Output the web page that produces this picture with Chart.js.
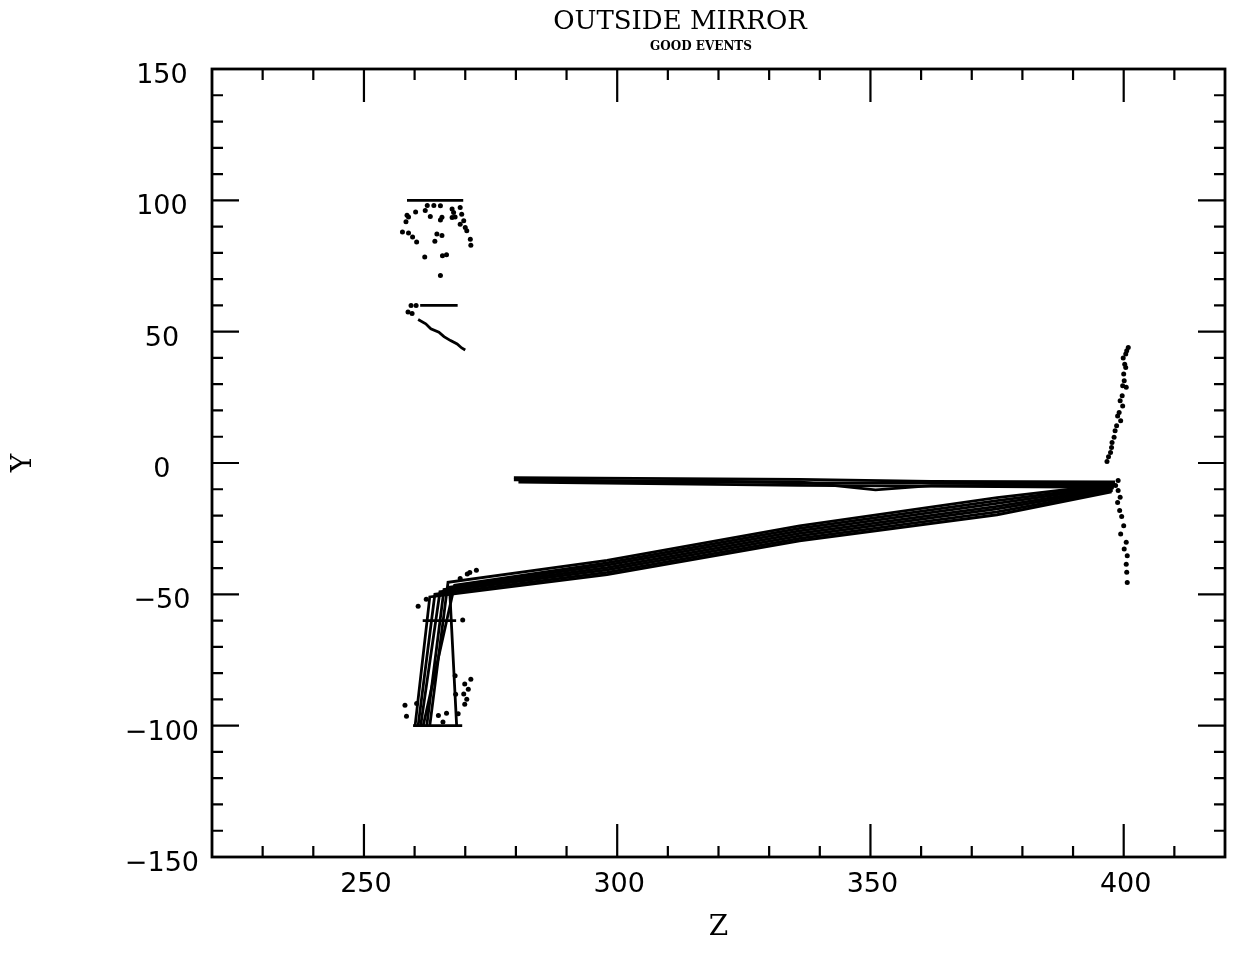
<!DOCTYPE html>
<html>
<head>
<meta charset="utf-8">
<script src="https://cdn.jsdelivr.net/npm/chart.js@4/dist/chart.umd.min.js"></script>
<style>
html,body{margin:0;padding:0;background:#ffffff;}
canvas{display:block;}
</style>
</head>
<body>
<canvas id="c" width="1239" height="955"></canvas>
<script>
// ---- axis definitions ----
const zRange = [220, 420];
const yRange = [-150, 150];
const zLabelValues = [250, 300, 350, 400];
const yLabelValues = [-150, -100, -50, 0, 50, 100, 150];
const titleText = 'OUTSIDE MIRROR';
const subtitleText = 'GOOD EVENTS';

// ---- tracks (z, y) ----
const trackA = [[263.0,-100],[266.6,-45.4],[298,-37.1],[336,-23.9],[375,-13.2],[398.3,-8.0]];
const trackB = [[261.7,-100],[267.9,-46.5],[298,-38.0],[336,-24.9],[375,-14.3],[398.2,-8.5]];
const trackC = [[268.3,-100],[266.9,-47.3],[298,-38.9],[336,-25.8],[375,-15.4],[398.0,-9.0]];
const trackD = [[262.4,-100],[265.8,-48.2],[298,-39.8],[336,-26.8],[375,-16.5],[398.0,-9.5]];
const trackE = [[261.2,-100],[265.0,-49.0],[298,-40.7],[336,-27.7],[375,-17.5],[397.8,-10.0]];
const trackF = [[260.7,-100],[264.0,-50.0],[298,-41.6],[336,-28.7],[375,-18.6],[397.8,-10.5]];
const trackG = [[260.1,-100],[263.0,-51.0],[298,-42.5],[336,-29.6],[375,-19.7],[397.6,-11.0]];

const flatA = [[279.6,-5.6],[336,-6.2],[362,-7.0],[398.3,-7.2]];
const flatB = [[279.6,-6.4],[336,-7.2],[351,-10.2],[362,-8.6],[398.3,-8.3]];
const flatC = [[280.5,-7.3],[336,-8.5],[398,-9.3]];
const flatD = [[282,-6.8],[340,-7.6],[398,-7.8]];

const segTop100 = [[258.5,100],[269.6,100]];
const segTop60 = [[261.1,60],[268.5,60]];
const arcTop = [[260.7,54.6],[262.2,53.0],[263.2,51.1],[264.8,49.8],[265.8,48.1],[267.1,46.6],[268.4,45.3],[269.3,43.8],[270.0,43.0]];
const segBot100 = [[259.7,-100],[269.4,-100]];
const segBot60 = [[261.6,-60],[268.2,-60]];

// ---- scattered hits (z, y) ----
const dotsTop = [[262.5,98.0],[263.8,98.0],[265.1,97.9],[260.2,95.6],[258.8,93.7],[258.3,91.8],[258.5,94.3],[262.1,96.1],[263.1,93.8],[265.4,93.6],[265.1,92.5],[267.4,96.7],[267.7,95.4],[267.4,93.5],[268.0,93.7],[269.0,97.3],[269.3,94.7],[269.7,92.2],[270.0,89.7],[270.3,88.4],[269.0,90.9],[257.6,87.9],[258.8,87.6],[259.6,86.0],[260.4,84.1],[264.4,87.2],[265.4,86.6],[264.0,84.4],[271.0,85.2],[271.1,82.9],[262.0,78.4],[265.5,78.9],[266.3,79.3],[265.1,71.4],[259.3,60.0],[260.3,60.0],[258.7,57.5],[259.5,56.9]];
const dotsBottom = [[272.2,-40.8],[270.4,-42.3],[260.7,-54.5],[262.3,-51.9],[269.5,-59.8],[271.1,-82.3],[269.9,-84.1],[270.6,-86.1],[269.7,-87.9],[270.3,-89.9],[269.9,-91.8],[258.1,-92.2],[258.4,-96.4],[264.7,-96.1],[266.3,-95.3],[268.6,-95.5],[265.6,-98.6],[260.4,-91.6],[268.0,-81.0],[268.1,-88.0],[269.0,-44.0],[270.9,-41.7]];
const dotsRight = [[400.9,44.0],[400.6,42.7],[400.4,41.5],[399.9,40.0],[400.2,37.6],[400.4,36.4],[400.0,33.9],[400.1,31.3],[399.8,29.4],[400.5,28.8],[399.7,25.6],[399.3,23.7],[399.8,21.7],[399.1,19.2],[398.8,17.9],[399.4,16.1],[398.6,14.2],[398.3,12.3],[398.1,9.8],[397.7,7.8],[397.6,5.9],[397.4,4.0],[397.0,2.4],[396.7,0.6],[398.9,-6.7],[398.4,-8.6],[398.9,-10.5],[399.3,-13.0],[398.8,-15.0],[399.2,-18.1],[399.6,-20.4],[400.0,-23.9],[399.4,-27.0],[400.5,-30.2],[400.1,-32.7],[400.7,-35.3],[400.5,-38.5],[400.6,-41.6],[400.7,-45.5]];

const lineSets = [trackA, trackB, trackC, trackD, trackE, trackF, trackG, flatA, flatB, flatC, flatD, segTop100, segTop60, arcTop, segBot100, segBot60];
const dotSets = [dotsTop, dotsBottom, dotsRight];

const toXY = arr => arr.map(p => ({x: p[0], y: p[1]}));
const fmt = v => (v < 0 ? '\u2212' + Math.abs(v) : String(v));

const datasets = [];
lineSets.forEach((s, i) => datasets.push({
  label: 'track ' + (i + 1), data: toXY(s), showLine: true, borderColor: '#000',
  borderWidth: 2.8, pointRadius: 0, fill: false, tension: 0
}));
dotSets.forEach((s, i) => datasets.push({
  label: 'hits ' + (i + 1), data: toXY(s), showLine: false, pointRadius: 2.5,
  pointBackgroundColor: '#000', pointBorderWidth: 0, borderColor: '#000'
}));

const frameTicks = {
  id: 'frameTicks',
  afterDatasetsDraw(chart) {
    const {ctx, chartArea: a, scales: {x, y}} = chart;
    ctx.save();
    ctx.strokeStyle = '#000';
    ctx.lineWidth = 2.8;
    ctx.strokeRect(a.left, a.top, a.right - a.left, a.bottom - a.top);
    ctx.lineWidth = 2.2;
    ctx.beginPath();
    x.ticks.forEach(t => {
      const p = x.getPixelForValue(t.value);
      if (p <= a.left + 1 || p >= a.right - 1) return;
      const len = (t.value % 50 === 0) ? 33 : 11;
      ctx.moveTo(p, a.bottom); ctx.lineTo(p, a.bottom - len);
      ctx.moveTo(p, a.top); ctx.lineTo(p, a.top + len);
    });
    y.ticks.forEach(t => {
      const p = y.getPixelForValue(t.value);
      if (p <= a.top + 1 || p >= a.bottom - 1) return;
      const len = (t.value % 50 === 0) ? 27 : 11;
      ctx.moveTo(a.left, p); ctx.lineTo(a.left + len, p);
      ctx.moveTo(a.right, p); ctx.lineTo(a.right - len, p);
    });
    ctx.stroke();
    ctx.restore();
  }
};

const titlePlace = {
  id: 'titlePlace',
  afterLayout(chart) {
    chart.boxes.forEach(b => {
      if (!b.options) return;
      if (b.options.text === titleText) { b.left = 121; b.right = 1239; }
      if (b.options.text === subtitleText) { b.left = 163; b.right = 1239; }
    });
  }
};

Chart.defaults.font.family = 'DejaVu Sans';
Chart.defaults.color = '#000';

new Chart(document.getElementById('c'), {
  type: 'scatter',
  data: {datasets},
  plugins: [frameTicks, titlePlace],
  options: {
    responsive: false,
    animation: false,
    devicePixelRatio: 1,
    layout: {padding: {left: 0, right: 14, top: 0, bottom: 0}},
    plugins: {
      legend: {display: false},
      tooltip: {enabled: false},
      title: {display: true, text: titleText, color: '#000',
        font: {family: 'DejaVu Serif', size: 26, weight: 'normal'}, padding: {top: 7, bottom: 0}},
      subtitle: {display: true, text: subtitleText, color: '#000',
        font: {family: 'DejaVu Serif', size: 12, weight: 'bold'}, padding: {top: 1, bottom: 15.4}}
    },
    scales: {
      x: {
        type: 'linear', min: zRange[0], max: zRange[1],
        grid: {display: false, drawTicks: false},
        border: {display: false},
        ticks: {stepSize: 10, autoSkip: false, maxRotation: 0, minRotation: 0, padding: 12, labelOffset: 2,
          font: {family: 'DejaVu Sans', size: 27}, color: '#000',
          callback: v => zLabelValues.includes(v) ? fmt(v) : ''},
        title: {display: true, text: 'Z', color: '#000', font: {family: 'DejaVu Serif', size: 28},
          padding: {top: 0, bottom: 10}},
        afterFit(s) { s.height = 98; }
      },
      y: {
        type: 'linear', min: yRange[0], max: yRange[1],
        grid: {display: false, drawTicks: false},
        border: {display: false},
        ticks: {stepSize: 10, autoSkip: false, padding: 13, crossAlign: 'center', labelOffset: 7,
          font: {family: 'DejaVu Sans', size: 27}, color: '#000',
          callback: v => yLabelValues.includes(v) ? fmt(v) : ''},
        title: {display: true, text: 'Y', color: '#000', font: {family: 'DejaVu Serif', size: 28},
          padding: {top: 7, bottom: 0}},
        afterFit(s) { s.width = 212; }
      }
    }
  }
});
</script>
</body>
</html>
